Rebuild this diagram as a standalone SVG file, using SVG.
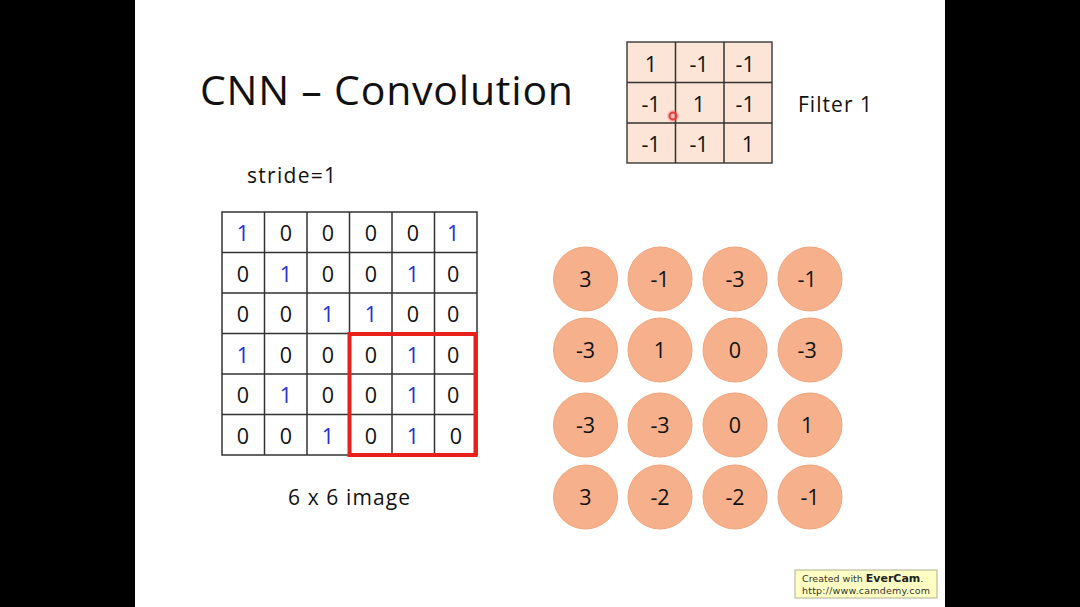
<svg xmlns="http://www.w3.org/2000/svg" width="1080" height="607" viewBox="0 0 1080 607">
<style>
.t{font-family:"Open Sans","Liberation Sans",sans-serif;fill:#111}
.c{font-family:"Open Sans","Liberation Sans",sans-serif;font-size:21.5px;text-anchor:middle;fill:#111}
.b{fill:#2233cc}
.g{stroke:#333;stroke-width:1.5;fill:none}
.f{fill:#fce4d6;stroke:#444;stroke-width:1.5}
.o{fill:#f6b18c;stroke:#f0a47c;stroke-width:1}
.w{font-family:"DejaVu Sans","Liberation Sans",sans-serif;font-size:9.5px;fill:#333}
</style>
<rect width="1080" height="607" fill="#000"/>
<rect x="135" y="0" width="810" height="607" fill="#fff"/>
<text class="t" x="200" y="105" font-size="41" textLength="373">CNN – Convolution</text>
<g id="filter">
<rect class="f" x="627" y="42" width="145" height="121"/>
<path class="g" d="M675.5 42V163M724 42V163M627 82.5H772M627 123H772"/>
<text class="c"><tspan x="651" y="72">1</tspan><tspan x="699" y="72">-1</tspan><tspan x="748" y="72">-1</tspan>
<tspan x="651" y="112">-1</tspan><tspan x="699" y="112">1</tspan><tspan x="748" y="112">-1</tspan>
<tspan x="651" y="152">-1</tspan><tspan x="699" y="152">-1</tspan><tspan x="748" y="152">1</tspan></text>
<circle cx="673" cy="116" r="3.5" fill="none" stroke="#e03030" stroke-width="2"/>
<circle cx="673" cy="116" r="6" fill="#ff6060" opacity="0.3"/>
</g>
<text class="t" x="798" y="112" font-size="21" textLength="74">Filter 1</text>
<text class="t" x="247" y="183" font-size="21" textLength="89">stride=1</text>
<g id="image">
<rect x="222" y="212" width="255" height="243" fill="#fff" stroke="#333" stroke-width="1.5"/>
<path class="g" d="M264.5 212V455M307 212V455M349.5 212V455M392 212V455M434.5 212V455M222 252.5H477M222 293H477M222 333.5H477M222 374H477M222 414.5H477"/>
<text class="c">
<tspan x="243" y="241" class="b">1</tspan><tspan x="286" y="241">0</tspan><tspan x="328" y="241">0</tspan><tspan x="371" y="241">0</tspan><tspan x="413" y="241">0</tspan><tspan x="456" y="241" class="b">1</tspan>
<tspan x="243" y="282">0</tspan><tspan x="286" y="282" class="b">1</tspan><tspan x="328" y="282">0</tspan><tspan x="371" y="282">0</tspan><tspan x="413" y="282" class="b">1</tspan><tspan x="456" y="282">0</tspan>
<tspan x="243" y="322">0</tspan><tspan x="286" y="322">0</tspan><tspan x="328" y="322" class="b">1</tspan><tspan x="371" y="322" class="b">1</tspan><tspan x="413" y="322">0</tspan><tspan x="456" y="322">0</tspan>
<tspan x="243" y="363" class="b">1</tspan><tspan x="286" y="363">0</tspan><tspan x="328" y="363">0</tspan><tspan x="371" y="363">0</tspan><tspan x="413" y="363" class="b">1</tspan><tspan x="456" y="363">0</tspan>
<tspan x="243" y="403">0</tspan><tspan x="286" y="403" class="b">1</tspan><tspan x="328" y="403">0</tspan><tspan x="371" y="403">0</tspan><tspan x="413" y="403" class="b">1</tspan><tspan x="456" y="403">0</tspan>
<tspan x="243" y="444">0</tspan><tspan x="286" y="444">0</tspan><tspan x="328" y="444" class="b">1</tspan><tspan x="371" y="444">0</tspan><tspan x="413" y="444" class="b">1</tspan><tspan x="456" y="444">0</tspan>
</text>
<rect x="349.5" y="334" width="126" height="121" fill="none" stroke="#e8201c" stroke-width="4"/>
</g>
<text class="t" x="288" y="505" font-size="21" textLength="122">6 x 6 image</text>
<g id="output">
<circle class="o" cx="585.5" cy="279" r="32"/><circle class="o" cx="660" cy="279" r="32"/><circle class="o" cx="735" cy="279" r="32"/><circle class="o" cx="810" cy="279" r="32"/>
<circle class="o" cx="585.5" cy="350" r="32"/><circle class="o" cx="660" cy="350" r="32"/><circle class="o" cx="735" cy="350" r="32"/><circle class="o" cx="810" cy="350" r="32"/>
<circle class="o" cx="585.5" cy="425" r="32"/><circle class="o" cx="660" cy="425" r="32"/><circle class="o" cx="735" cy="425" r="32"/><circle class="o" cx="810" cy="425" r="32"/>
<circle class="o" cx="585.5" cy="497" r="32"/><circle class="o" cx="660" cy="497" r="32"/><circle class="o" cx="735" cy="497" r="32"/><circle class="o" cx="810" cy="497" r="32"/>
<text class="c">
<tspan x="585.5" y="287">3</tspan><tspan x="660" y="287">-1</tspan><tspan x="735" y="287">-3</tspan><tspan x="810" y="287">-1</tspan>
<tspan x="585.5" y="358">-3</tspan><tspan x="660" y="358">1</tspan><tspan x="735" y="358">0</tspan><tspan x="810" y="358">-3</tspan>
<tspan x="585.5" y="433">-3</tspan><tspan x="660" y="433">-3</tspan><tspan x="735" y="433">0</tspan><tspan x="810" y="433">1</tspan>
<tspan x="585.5" y="505">3</tspan><tspan x="660" y="505">-2</tspan><tspan x="735" y="505">-2</tspan><tspan x="810" y="505">-1</tspan>
</text>
</g>
<g id="watermark">
<rect x="795" y="570" width="142" height="28" fill="#ffffc4" stroke="#b0b090" stroke-width="1"/>
<text class="w" x="802" y="582">Created with <tspan font-weight="bold" font-size="11px" fill="#222">EverCam</tspan>.</text>
<text class="w" x="802" y="594" textLength="128">http://www.camdemy.com</text>
</g>
</svg>
